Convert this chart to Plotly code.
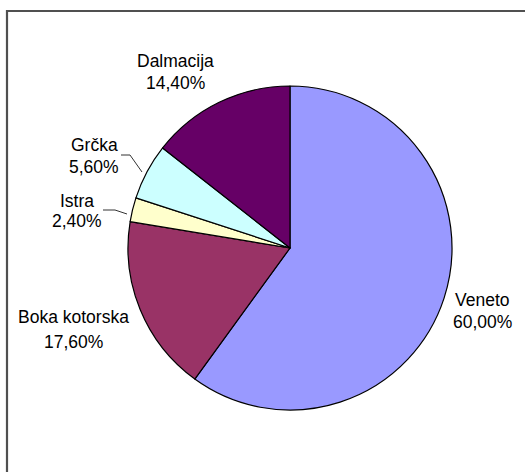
import plotly.graph_objects as go

W, H = 525, 472

regions = ["Veneto", "Boka kotorska", "Istra", "Grčka", "Dalmacija"]
shares = [60.0, 17.6, 2.4, 5.6, 14.4]
pct_labels = ["60,00%", "17,60%", "2,40%", "5,60%", "14,40%"]
colors = ["#9999FF", "#993366", "#FFFFCC", "#CCFFFF", "#660066"]

# label anchor centres (pixels) for name / percentage lines
label_pos = {
    "Veneto": (482, 300, 322),
    "Boka kotorska": (73, 317, 342),
    "Istra": (77, 201, 221),
    "Grčka": (94, 145, 167),
    "Dalmacija": (175, 61, 83),
}

def px(x):
    return x / W

def py(y):
    return 1 - y / H

cx, cy, r = 290, 248, 162

fig = go.Figure(go.Pie(
    labels=regions,
    values=shares,
    sort=False,
    direction="clockwise",
    rotation=0,
    textinfo="none",
    hoverinfo="skip",
    marker=dict(colors=colors, line=dict(color="#000000", width=1.2)),
    domain=dict(x=[px(cx - r), px(cx + r)], y=[py(cy + r), py(cy - r)]),
    showlegend=False,
))

font = dict(family="Liberation Sans, Arial, sans-serif", size=17.5, color="#000000")
annotations = []
for name, pct in zip(regions, pct_labels):
    x, y1, y2 = label_pos[name]
    annotations.append(dict(x=px(x), y=py(y1), xref="paper", yref="paper", text=name,
                            showarrow=False, font=font, xanchor="center", yanchor="middle"))
    annotations.append(dict(x=px(x), y=py(y2), xref="paper", yref="paper", text=pct,
                            showarrow=False, font=font, xanchor="center", yanchor="middle"))

shapes = [
    dict(type="rect", xref="paper", yref="paper", x0=px(7), y0=-0.05, x1=1.05, y1=py(11),
         line=dict(color="#505050", width=2.2), fillcolor="rgba(0,0,0,0)"),
    # leader lines
    dict(type="path", xref="paper", yref="paper",
         path=f"M {px(121)} {py(155)} L {px(130)} {py(155)} L {px(142)} {py(172)}",
         line=dict(color="#333333", width=1)),
    dict(type="path", xref="paper", yref="paper",
         path=f"M {px(103)} {py(210)} L {px(115)} {py(210)} L {px(127)} {py(214)}",
         line=dict(color="#333333", width=1)),
]

fig.update_layout(
    width=W, height=H,
    margin=dict(l=0, r=0, t=0, b=0),
    paper_bgcolor="#FFFFFF",
    plot_bgcolor="#FFFFFF",
    annotations=annotations,
    shapes=shapes,
    hovermode=False,
)

fig.write_html("out.html", config={"displayModeBar": False, "staticPlot": True},
               post_script="document.body.style.margin='0';document.body.style.overflow='hidden';")
